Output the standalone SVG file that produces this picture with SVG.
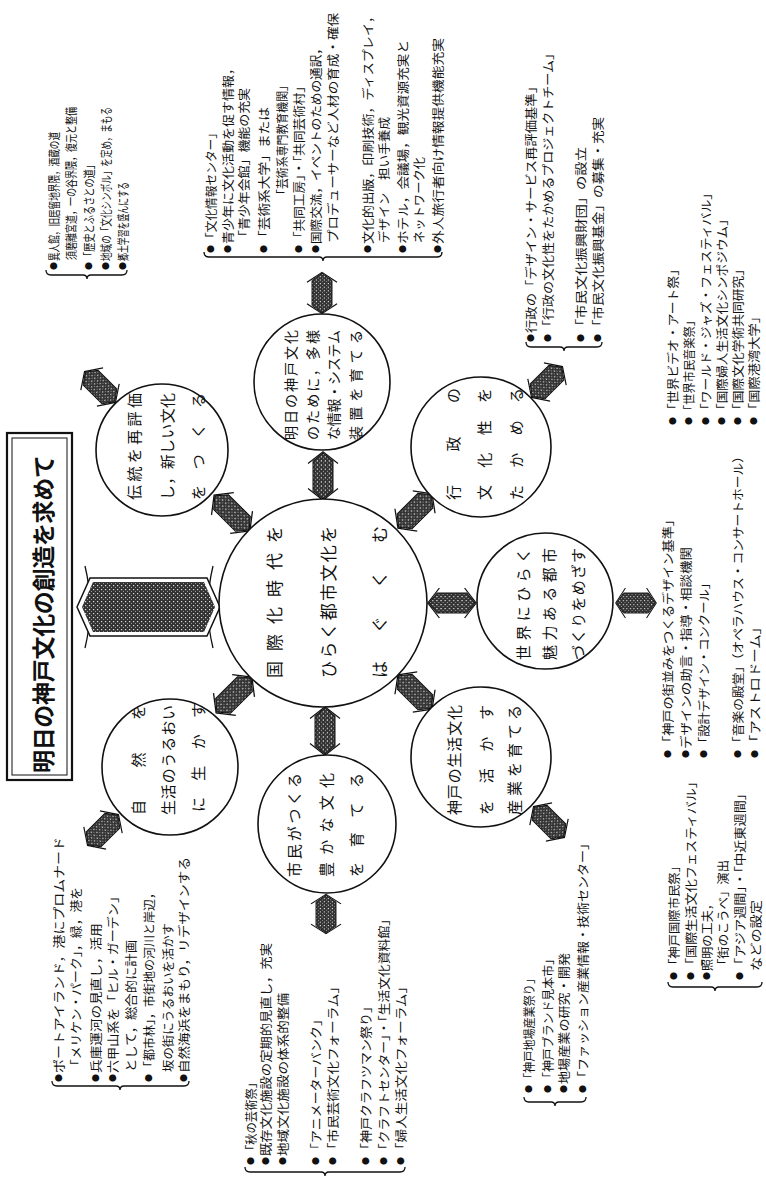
<svg xmlns="http://www.w3.org/2000/svg" xmlns:xlink="http://www.w3.org/1999/xlink" width="766" height="1185" viewBox="0 0 766 1185">
<style>
.t{font-family:"Noto Sans CJK JP","Noto Sans CJK SC",sans-serif;fill:#111;dominant-baseline:central}
.l{font-size:12px}
.b{font-size:8px;text-anchor:middle}
.c{font-size:15px}
.m{font-size:14px}
.cc{font-size:17px}
.ttl{font-size:23px;font-weight:bold}
.node circle{fill:#fff;stroke:#111;stroke-width:1.6}
.br{fill:none;stroke:#111;stroke-width:1.3}
</style>
<defs>
<pattern id="hatch" width="4" height="4" patternUnits="userSpaceOnUse">
<rect width="4" height="4" fill="#333"/>
<rect x="1" y="1" width="1.2" height="1.2" fill="#ddd"/>
<rect x="3" y="3" width="1" height="1" fill="#999"/>
</pattern>
<g id="dbl">
<path d="M-12,-15 L-23,0 L-12,15 M12,-15 L23,0 L12,15" fill="none" stroke="#111" stroke-width="1.2"/>
<polygon points="-22,0 -14,-10 14,-10 22,0 14,10 -14,10" fill="url(#hatch)" stroke="#111" stroke-width="1"/>
</g>
</defs>
<rect width="766" height="1185" fill="#fff"/>

<g id="title">
<rect x="7" y="433" width="65" height="347" fill="#fff" stroke="#111" stroke-width="2.2"/>
<rect x="12" y="438" width="55" height="337" fill="none" stroke="#111" stroke-width="1"/>
<text class="t ttl" transform="translate(42,773) rotate(-90)" textLength="318">明日の神戸文化の創造を求めて</text>
</g>

<g id="connectors">
<path d="M85,566 Q95,607 85,648 M213,566 Q203,607 213,648" fill="none" stroke="#111" stroke-width="1.3"/>
<polygon points="77,607 90,578 207,578 220,607 207,636 90,636" fill="#fff" stroke="#111" stroke-width="1.5"/>
<polygon points="82,607 93,582 204,582 215,607 204,632 93,632" fill="url(#hatch)"/>
<use xlink:href="#dbl" href="#dbl" transform="translate(232,513) rotate(45) scale(1.1,1.05)"/>
<use xlink:href="#dbl" href="#dbl" transform="translate(100,387) rotate(45) scale(0.95,1.05)"/>
<use xlink:href="#dbl" href="#dbl" transform="translate(415,511) rotate(-45) scale(1.05,1.05)"/>
<use xlink:href="#dbl" href="#dbl" transform="translate(547,382) rotate(-45) scale(0.95,1.05)"/>
<use xlink:href="#dbl" href="#dbl" transform="translate(234,695) rotate(-45) scale(1.1,1.05)"/>
<use xlink:href="#dbl" href="#dbl" transform="translate(103,830) rotate(-45) scale(0.95,1.05)"/>
<use xlink:href="#dbl" href="#dbl" transform="translate(415,692) rotate(45) scale(1.05,1.05)"/>
<use xlink:href="#dbl" href="#dbl" transform="translate(549,822) rotate(45) scale(0.95,1.05)"/>
<use xlink:href="#dbl" href="#dbl" transform="translate(323,476) rotate(90) scale(1.05,1)"/>
<use xlink:href="#dbl" href="#dbl" transform="translate(322,293) rotate(90) scale(0.9,1)"/>
<use xlink:href="#dbl" href="#dbl" transform="translate(325,731) rotate(90) scale(1.05,1)"/>
<use xlink:href="#dbl" href="#dbl" transform="translate(326,914) rotate(90) scale(0.85,1)"/>
<use xlink:href="#dbl" href="#dbl" transform="translate(452,603) rotate(0) scale(1.05,1)"/>
<use xlink:href="#dbl" href="#dbl" transform="translate(636,603) rotate(0) scale(0.88,1)"/>
</g>

<g id="n-center" class="node">
<circle cx="323" cy="603" r="104"/>
<text class="t cc" transform="translate(273,678) rotate(-90)" textLength="152">国際化時代を</text>
<text class="t cc" transform="translate(327,678) rotate(-90)" textLength="152">ひらく都市文化を</text>
<text class="t cc" transform="translate(378,678) rotate(-90)" textLength="152">はぐくむ</text>
</g>
<g id="n-dento" class="node">
<circle cx="162" cy="450" r="66"/>
<text class="t c" transform="translate(133,500) rotate(-90)" textLength="107">伝統を再評価</text>
<text class="t c" transform="translate(166,500) rotate(-90)" textLength="107">し，新しい文化</text>
<text class="t c" transform="translate(197,500) rotate(-90)" textLength="107">をつくる</text>
</g>
<g id="n-shizen" class="node">
<circle cx="170" cy="767" r="68"/>
<text class="t c" transform="translate(137,815) rotate(-90)" textLength="110">自然を</text>
<text class="t c" transform="translate(167,815) rotate(-90)" textLength="110">生活のうるおい</text>
<text class="t c" transform="translate(197,812) rotate(-90)" textLength="109">に生かす</text>
</g>
<g id="n-ashita" class="node">
<circle cx="322" cy="382" r="68"/>
<text class="t m" transform="translate(290,440) rotate(-90)" textLength="110">明日の神戸文化</text>
<text class="t m" transform="translate(312,440) rotate(-90)" textLength="110">のために，多様</text>
<text class="t m" transform="translate(333,440) rotate(-90)" textLength="110">な情報・システム</text>
<text class="t m" transform="translate(355,440) rotate(-90)" textLength="110">装置を育てる</text>
</g>
<g id="n-gyosei" class="node">
<circle cx="481" cy="447" r="70"/>
<text class="t c" transform="translate(452,500) rotate(-90)" textLength="112">行政の</text>
<text class="t c" transform="translate(483,500) rotate(-90)" textLength="112">文化性を</text>
<text class="t c" transform="translate(515,500) rotate(-90)" textLength="112">たかめる</text>
</g>
<g id="n-sekai" class="node">
<circle cx="545" cy="601" r="68"/>
<text class="t c" transform="translate(522,660) rotate(-90)" textLength="112">世界にひらく</text>
<text class="t c" transform="translate(548,660) rotate(-90)" textLength="112">魅力ある都市</text>
<text class="t c" transform="translate(577,660) rotate(-90)" textLength="112">づくりをめざす</text>
</g>
<g id="n-seikatsu" class="node">
<circle cx="481" cy="757" r="70"/>
<text class="t c" transform="translate(453,815) rotate(-90)" textLength="110">神戸の生活文化</text>
<text class="t c" transform="translate(485,815) rotate(-90)" textLength="110">を活かす</text>
<text class="t c" transform="translate(513,815) rotate(-90)" textLength="110">産業を育てる</text>
</g>
<g id="n-shimin" class="node">
<circle cx="327" cy="824" r="69"/>
<text class="t c" transform="translate(293,877) rotate(-90)" textLength="104">市民がつくる</text>
<text class="t c" transform="translate(325,877) rotate(-90)" textLength="104">豊かな文化</text>
<text class="t c" transform="translate(355,877) rotate(-90)" textLength="104">を育てる</text>
</g>

<g id="list-ijinkan">
<text class="t b" transform="translate(53,266) rotate(-90)">●</text>
<text class="t l" transform="translate(53,261) rotate(-90)" textLength="129" lengthAdjust="spacingAndGlyphs">異人館，旧居留地界隈，酒蔵の道</text>
<text class="t l" transform="translate(70,260) rotate(-90)" textLength="153" lengthAdjust="spacingAndGlyphs">須磨離宮道，一の谷界隈，復元と整備</text>
<text class="t b" transform="translate(88,266) rotate(-90)">●</text>
<text class="t l" transform="translate(88,261) rotate(-90)" textLength="101" lengthAdjust="spacingAndGlyphs">「歴史とふるさとの道」</text>
<text class="t b" transform="translate(105,266) rotate(-90)">●</text>
<text class="t l" transform="translate(105,261) rotate(-90)" textLength="154" lengthAdjust="spacingAndGlyphs">地域の「文化シンボル」を定め，まもる</text>
<text class="t b" transform="translate(122,266) rotate(-90)">●</text>
<text class="t l" transform="translate(122,261) rotate(-90)" textLength="79" lengthAdjust="spacingAndGlyphs">郷土学習を盛んにする</text>
<path class="br" d="M46,270 Q46,275 51,275 L83,275 Q87,275 87,279 Q87,275 91,275 L122,275 Q127,275 127,270"/>
</g>

<g id="list-joho">
<text class="t b" transform="translate(210,249) rotate(-90)">●</text>
<text class="t l" transform="translate(210,244) rotate(-90)" textLength="117" lengthAdjust="spacingAndGlyphs">「文化情報センター」</text>
<text class="t b" transform="translate(227,249) rotate(-90)">●</text>
<text class="t l" transform="translate(227,244) rotate(-90)" textLength="182" lengthAdjust="spacingAndGlyphs">青少年に文化活動を促す情報，</text>
<text class="t l" transform="translate(243,243) rotate(-90)" textLength="155" lengthAdjust="spacingAndGlyphs">「青少年会館」機能の充実</text>
<text class="t b" transform="translate(263,249) rotate(-90)">●</text>
<text class="t l" transform="translate(263,244) rotate(-90)" textLength="137" lengthAdjust="spacingAndGlyphs">「芸術系大学」または</text>
<text class="t l" transform="translate(281,200) rotate(-90)" textLength="120" lengthAdjust="spacingAndGlyphs">「芸術系専門教育機関」</text>
<text class="t b" transform="translate(298,249) rotate(-90)">●</text>
<text class="t l" transform="translate(298,244) rotate(-90)" textLength="164" lengthAdjust="spacingAndGlyphs">「共同工房」・「共同芸術村」</text>
<text class="t b" transform="translate(315,249) rotate(-90)">●</text>
<text class="t l" transform="translate(315,244) rotate(-90)" textLength="202" lengthAdjust="spacingAndGlyphs">国際交流，イベントのための通訳，</text>
<text class="t l" transform="translate(332,243) rotate(-90)" textLength="230" lengthAdjust="spacingAndGlyphs">プロデューサーなど人材の育成・確保</text>
<text class="t b" transform="translate(367,249) rotate(-90)">●</text>
<text class="t l" transform="translate(367,244) rotate(-90)" textLength="234" lengthAdjust="spacingAndGlyphs">文化的出版，印刷技術，ディスプレイ，</text>
<text class="t l" transform="translate(383,243) rotate(-90)" textLength="126" lengthAdjust="spacingAndGlyphs">デザイン　担い手養成</text>
<text class="t b" transform="translate(402,249) rotate(-90)">●</text>
<text class="t l" transform="translate(402,244) rotate(-90)" textLength="204" lengthAdjust="spacingAndGlyphs">ホテル，会議場，観光資源充実と</text>
<text class="t l" transform="translate(418,243) rotate(-90)" textLength="86" lengthAdjust="spacingAndGlyphs">ネットワーク化</text>
<text class="t b" transform="translate(437,249) rotate(-90)">●</text>
<text class="t l" transform="translate(437,244) rotate(-90)" textLength="206" lengthAdjust="spacingAndGlyphs">外人旅行者向け情報提供機能充実</text>
<path class="br" d="M204,252 Q204,257 209,257 L319,257 Q323,257 323,261 Q323,257 327,257 L437,257 Q442,257 442,252"/>
</g>

<g id="list-gyosei">
<text class="t b" transform="translate(530,338) rotate(-90)">●</text>
<text class="t l" transform="translate(530,333) rotate(-90)" textLength="253" lengthAdjust="spacingAndGlyphs">行政の「デザイン・サービス再評価基準」</text>
<text class="t b" transform="translate(547,338) rotate(-90)">●</text>
<text class="t l" transform="translate(547,333) rotate(-90)" textLength="286" lengthAdjust="spacingAndGlyphs">「行政の文化性をたかめるプロジェクトチーム」</text>
<text class="t b" transform="translate(580,338) rotate(-90)">●</text>
<text class="t l" transform="translate(580,333) rotate(-90)" textLength="186" lengthAdjust="spacingAndGlyphs">「市民文化振興財団」の設立</text>
<text class="t b" transform="translate(597,338) rotate(-90)">●</text>
<text class="t l" transform="translate(597,333) rotate(-90)" textLength="216" lengthAdjust="spacingAndGlyphs">「市民文化振興基金」の募集・充実</text>
<path class="br" d="M526,342 Q526,347 531,347 L560,347 Q564,347 564,351 Q564,347 568,347 L597,347 Q602,347 602,342"/>
</g>

<g id="list-sekai-1">
<text class="t b" transform="translate(672,421) rotate(-90)">●</text>
<text class="t l" transform="translate(672,416) rotate(-90)" textLength="153" lengthAdjust="spacingAndGlyphs">「世界ビデオ・アート祭」</text>
<text class="t b" transform="translate(688,421) rotate(-90)">●</text>
<text class="t l" transform="translate(688,416) rotate(-90)" textLength="101" lengthAdjust="spacingAndGlyphs">「世界市民音楽祭」</text>
<text class="t b" transform="translate(705,421) rotate(-90)">●</text>
<text class="t l" transform="translate(705,416) rotate(-90)" textLength="229" lengthAdjust="spacingAndGlyphs">「ワールド・ジャズ・フェスティバル」</text>
<text class="t b" transform="translate(721,421) rotate(-90)">●</text>
<text class="t l" transform="translate(721,416) rotate(-90)" textLength="203" lengthAdjust="spacingAndGlyphs">「国際婦人生活文化シンポジウム」</text>
<text class="t b" transform="translate(737,421) rotate(-90)">●</text>
<text class="t l" transform="translate(737,416) rotate(-90)" textLength="153" lengthAdjust="spacingAndGlyphs">「国際文化学術共同研究」</text>
<text class="t b" transform="translate(753,421) rotate(-90)">●</text>
<text class="t l" transform="translate(753,416) rotate(-90)" textLength="106" lengthAdjust="spacingAndGlyphs">「国際港湾大学」</text>
</g>

<g id="list-sekai-2">
<text class="t b" transform="translate(667,754) rotate(-90)">●</text>
<text class="t l" transform="translate(667,749) rotate(-90)" textLength="236" lengthAdjust="spacingAndGlyphs">「神戸の街並みをつくるデザイン基準」</text>
<text class="t b" transform="translate(685,754) rotate(-90)">●</text>
<text class="t l" transform="translate(685,749) rotate(-90)" textLength="202" lengthAdjust="spacingAndGlyphs">デザインの助言・指導・相談機関</text>
<text class="t b" transform="translate(703,754) rotate(-90)">●</text>
<text class="t l" transform="translate(703,749) rotate(-90)" textLength="172" lengthAdjust="spacingAndGlyphs">「設計デザイン・コンクール」</text>
<text class="t b" transform="translate(737,754) rotate(-90)">●</text>
<text class="t l" transform="translate(737,749) rotate(-90)" textLength="299" lengthAdjust="spacingAndGlyphs">「音楽の殿堂」（オペラハウス・コンサートホール）</text>
<text class="t b" transform="translate(754,754) rotate(-90)">●</text>
<text class="t l" transform="translate(754,749) rotate(-90)" textLength="129" lengthAdjust="spacingAndGlyphs">「アストロドーム」</text>
</g>

<g id="list-shiminsai">
<text class="t b" transform="translate(673,976) rotate(-90)">●</text>
<text class="t l" transform="translate(673,971) rotate(-90)" textLength="111" lengthAdjust="spacingAndGlyphs">「神戸国際市民祭」</text>
<text class="t b" transform="translate(690,976) rotate(-90)">●</text>
<text class="t l" transform="translate(690,971) rotate(-90)" textLength="196" lengthAdjust="spacingAndGlyphs">「国際生活文化フェスティバル」</text>
<text class="t b" transform="translate(706,976) rotate(-90)">●</text>
<text class="t l" transform="translate(706,971) rotate(-90)" textLength="73" lengthAdjust="spacingAndGlyphs">照明の工夫，</text>
<text class="t l" transform="translate(722,971) rotate(-90)" textLength="111" lengthAdjust="spacingAndGlyphs">「街のこうべ」演出</text>
<text class="t b" transform="translate(739,976) rotate(-90)">●</text>
<text class="t l" transform="translate(739,971) rotate(-90)" textLength="184" lengthAdjust="spacingAndGlyphs">「アジア週間」・「中近東週間」</text>
<text class="t l" transform="translate(755,971) rotate(-90)" textLength="71" lengthAdjust="spacingAndGlyphs">などの設定</text>
<path class="br" d="M668,982 Q668,987 673,987 L711,987 Q715,987 715,991 Q715,987 719,987 L757,987 Q762,987 762,982"/>
</g>

<g id="list-sangyo">
<text class="t b" transform="translate(528,1089) rotate(-90)">●</text>
<text class="t l" transform="translate(528,1084) rotate(-90)" textLength="111" lengthAdjust="spacingAndGlyphs">「神戸地場産業祭り」</text>
<text class="t b" transform="translate(547,1089) rotate(-90)">●</text>
<text class="t l" transform="translate(547,1084) rotate(-90)" textLength="131" lengthAdjust="spacingAndGlyphs">「神戸ブランド見本市」</text>
<text class="t b" transform="translate(563,1089) rotate(-90)">●</text>
<text class="t l" transform="translate(563,1084) rotate(-90)" textLength="131" lengthAdjust="spacingAndGlyphs">地場産業の研究・開発</text>
<text class="t b" transform="translate(582,1089) rotate(-90)">●</text>
<text class="t l" transform="translate(582,1084) rotate(-90)" textLength="247" lengthAdjust="spacingAndGlyphs">「ファッション産業情報・技術センター」</text>
<path class="br" d="M524,1097 Q524,1102 529,1102 L551,1102 Q555,1102 555,1106 Q555,1102 559,1102 L581,1102 Q586,1102 586,1097"/>
</g>

<g id="list-shimin">
<text class="t b" transform="translate(250,1161) rotate(-90)">●</text>
<text class="t l" transform="translate(250,1156) rotate(-90)" textLength="79" lengthAdjust="spacingAndGlyphs">「秋の芸術祭」</text>
<text class="t b" transform="translate(265,1161) rotate(-90)">●</text>
<text class="t l" transform="translate(265,1156) rotate(-90)" textLength="213" lengthAdjust="spacingAndGlyphs">既存文化施設の定期的見直し，充実</text>
<text class="t b" transform="translate(282,1161) rotate(-90)">●</text>
<text class="t l" transform="translate(282,1156) rotate(-90)" textLength="163" lengthAdjust="spacingAndGlyphs">地域文化施設の体系的整備</text>
<text class="t b" transform="translate(315,1161) rotate(-90)">●</text>
<text class="t l" transform="translate(315,1156) rotate(-90)" textLength="143" lengthAdjust="spacingAndGlyphs">「アニメーターバンク」</text>
<text class="t b" transform="translate(332,1161) rotate(-90)">●</text>
<text class="t l" transform="translate(332,1156) rotate(-90)" textLength="176" lengthAdjust="spacingAndGlyphs">「市民芸術文化フォーラム」</text>
<text class="t b" transform="translate(365,1161) rotate(-90)">●</text>
<text class="t l" transform="translate(365,1156) rotate(-90)" textLength="156" lengthAdjust="spacingAndGlyphs">「神戸クラフツマン祭り」</text>
<text class="t b" transform="translate(383,1161) rotate(-90)">●</text>
<text class="t l" transform="translate(383,1156) rotate(-90)" textLength="243" lengthAdjust="spacingAndGlyphs">「クラフトセンター」・「生活文化資料館」</text>
<text class="t b" transform="translate(400,1161) rotate(-90)">●</text>
<text class="t l" transform="translate(400,1156) rotate(-90)" textLength="176" lengthAdjust="spacingAndGlyphs">「婦人生活文化フォーラム」</text>
<path class="br" d="M245,1167 Q245,1172 250,1172 L321,1172 Q325,1172 325,1176 Q325,1172 329,1172 L400,1172 Q405,1172 405,1167"/>
</g>

<g id="list-shizen">
<text class="t b" transform="translate(58,1078) rotate(-90)">●</text>
<text class="t l" transform="translate(58,1073) rotate(-90)" textLength="236" lengthAdjust="spacingAndGlyphs">ポートアイランド，港にプロムナード</text>
<text class="t l" transform="translate(75,1072) rotate(-90)" textLength="185" lengthAdjust="spacingAndGlyphs">「メリケン・パーク」，緑，港を</text>
<text class="t b" transform="translate(95,1078) rotate(-90)">●</text>
<text class="t l" transform="translate(95,1073) rotate(-90)" textLength="150" lengthAdjust="spacingAndGlyphs">兵庫運河の見直し，活用</text>
<text class="t b" transform="translate(112,1078) rotate(-90)">●</text>
<text class="t l" transform="translate(112,1073) rotate(-90)" textLength="183" lengthAdjust="spacingAndGlyphs">六甲山系を「ヒル・ガーデン」</text>
<text class="t l" transform="translate(130,1072) rotate(-90)" textLength="132" lengthAdjust="spacingAndGlyphs">として，総合的に計画</text>
<text class="t b" transform="translate(148,1078) rotate(-90)">●</text>
<text class="t l" transform="translate(148,1073) rotate(-90)" textLength="186" lengthAdjust="spacingAndGlyphs">「都市林」，市街地の河川と岸辺，</text>
<text class="t l" transform="translate(167,1072) rotate(-90)" textLength="149" lengthAdjust="spacingAndGlyphs">坂の街にうるおいを活かす</text>
<text class="t b" transform="translate(183,1078) rotate(-90)">●</text>
<text class="t l" transform="translate(183,1073) rotate(-90)" textLength="216" lengthAdjust="spacingAndGlyphs">自然海浜をまもり，リデザインする</text>
<path class="br" d="M52,1081 Q52,1086 57,1086 L116,1086 Q120,1086 120,1090 Q120,1086 124,1086 L184,1086 Q189,1086 189,1081"/>
</g>
</svg>
